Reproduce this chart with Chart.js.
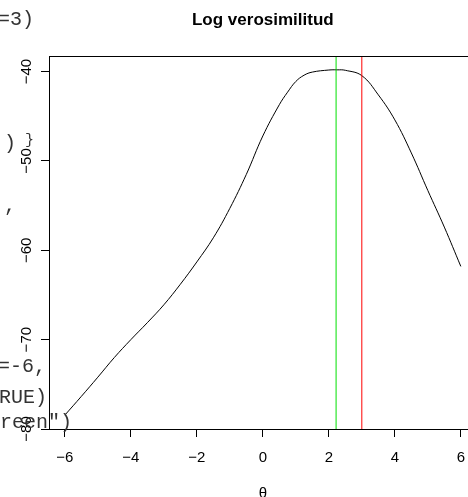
<!DOCTYPE html>
<html>
<head>
<meta charset="utf-8">
<script src="https://cdn.jsdelivr.net/npm/chart.js@4"></script>
<style>
    html, body { margin: 0; padding: 0; background: #fff; }
    body { width: 468px; height: 497px; overflow: hidden; position: relative; }
    #wrap { position: absolute; left: 0; top: 0; width: 477px; height: 505px; }
    .code { position: absolute; font-family: 'Liberation Mono', 'DejaVu Sans Mono', monospace; font-size: 20px; line-height: 20px; color: #333; white-space: pre; }
</style>
</head>
<body>
<div id="wrap"><canvas id="c" width="477" height="505"></canvas></div>

<!-- leftover console text bleeding into the left margin -->
<span class="code" style="left:-2px; top:10px;">=3)</span>
<span class="code" style="left:4px; top:134px;">)</span>
<span class="code" style="left:25px; top:131px; font-size:15px;">}</span>
<span class="code" style="left:4px; top:196px;">,</span>
<span class="code" style="left:-2px; top:357px;">=-6,</span>
<span class="code" style="left:-1px; top:388px;">RUE)</span>
<span class="code" style="left:0px; top:413px;">reen")</span>

<script>
// log-likelihood curve
const thetaVals = [-6, -5.5, -5, -4.5, -4, -3.5, -3, -2.5, -2, -1.5, -1, -0.5, 0, 0.5, 0.75, 1, 1.25, 1.5, 2, 2.25, 2.5, 3, 3.5, 4, 4.5, 5, 5.5, 6];
const logLikVals = [-78.45, -76.35, -74.2, -72.0, -70.0, -68.1, -66.1, -63.8, -61.3, -58.6, -55.3, -51.5, -47.2, -43.7, -42.3, -41.1, -40.4, -40.05, -39.82, -39.8, -39.85, -40.45, -42.6, -45.4, -49.1, -53.3, -57.4, -61.8];

// vertical reference lines (estimate and true value)
const mleTheta = 2.22;
const trueTheta = 3;

// axes
const xTicks = [-6, -4, -2, 0, 2, 4, 6];
const yTicks = [-80, -70, -60, -50, -40];
const xRange = [-6.48, 6.48];
const yRange = [-80, -38.25];

const FONT = "'Liberation Sans', Arial, Helvetica, sans-serif";
const minus = v => String(v).replace('-', '\u2212');

const curve = thetaVals.map((t, i) => ({ x: t, y: logLikVals[i] }));
const vline = t => [{ x: t, y: yRange[0] }, { x: t, y: yRange[1] }];

// R style box round the plot region
const boxPlugin = {
    id: 'box',
    afterDraw(chart) {
        const { ctx, chartArea: a } = chart;
        ctx.save();
        ctx.strokeStyle = '#000';
        ctx.lineWidth = 1;
        ctx.strokeRect(a.left + 0.5, a.top + 0.5, a.right - a.left, a.bottom - a.top);
        ctx.restore();
    }
};

new Chart(document.getElementById('c').getContext('2d'), {
    type: 'scatter',
    data: {
        datasets: [
            { data: vline(mleTheta), showLine: true, borderColor: '#00e000', borderWidth: 1, pointRadius: 0 },
            { data: vline(trueTheta), showLine: true, borderColor: '#ff0000', borderWidth: 1, pointRadius: 0 },
            { data: curve, showLine: true, borderColor: '#000', borderWidth: 1, pointRadius: 0, tension: 0.4 }
        ]
    },
    options: {
        responsive: false,
        animation: false,
        devicePixelRatio: 1,
        layout: { padding: 0 },
        plugins: {
            legend: { display: false },
            tooltip: { enabled: false },
            title: {
                display: true,
                text: 'Log verosimilitud',
                fullSize: false,
                color: '#000',
                font: { family: FONT, size: 17, weight: 'bold' },
                padding: { top: 10, bottom: 25.6 }
            }
        },
        scales: {
            x: {
                type: 'linear',
                min: xRange[0],
                max: xRange[1],
                afterBuildTicks: s => { s.ticks = xTicks.map(v => ({ value: v })); },
                afterFit: s => { s.height = 76; },
                grid: { drawOnChartArea: false, tickLength: 8, tickColor: '#000', color: '#000' },
                border: { display: false },
                ticks: { color: '#000', font: { family: FONT, size: 15 }, padding: 12, maxRotation: 0, callback: v => minus(v) },
                title: { display: true, text: 'θ', color: '#000', font: { family: FONT, size: 15 }, padding: { top: 0, bottom: 2 } }
            },
            y: {
                type: 'linear',
                min: yRange[0],
                max: yRange[1],
                afterBuildTicks: s => { s.ticks = yTicks.map(v => ({ value: v })); },
                afterFit: s => { s.width = 49; },
                grid: { drawOnChartArea: false, tickLength: 8, tickColor: '#000', color: '#000' },
                border: { display: false },
                ticks: { color: '#000', font: { family: FONT, size: 15 }, padding: 1, minRotation: 90, maxRotation: 90, crossAlign: 'center', callback: v => minus(v) }
            }
        }
    },
    plugins: [boxPlugin]
});
</script>
</body>
</html>
